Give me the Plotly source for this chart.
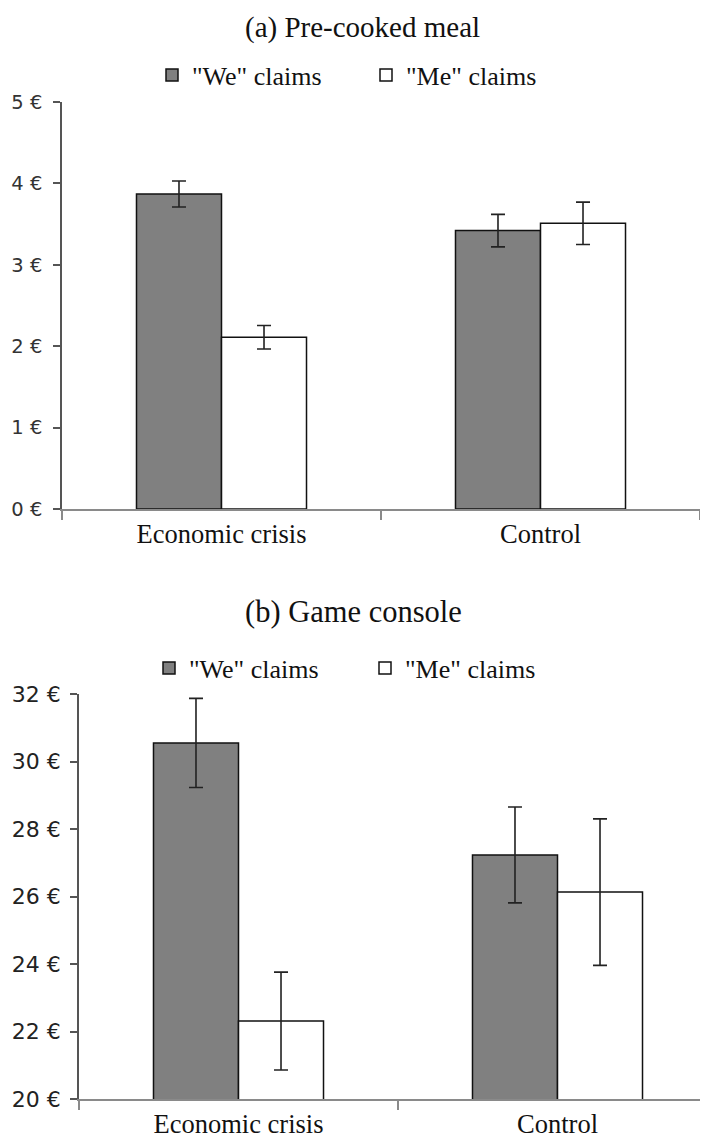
import plotly.graph_objects as go

# ---- data ----
categories = ["Economic crisis", "Control"]
series_names = ['"We" claims', '"Me" claims']
panel_titles = ["(a) Pre-cooked meal", "(b) Game console"]

meal_we = [3.87, 3.42]
meal_we_err = [0.16, 0.20]
meal_me = [2.11, 3.51]
meal_me_err = [0.145, 0.26]

console_we = [30.55, 27.23]
console_we_err = [1.32, 1.42]
console_me = [22.31, 26.13]
console_me_err = [1.45, 2.17]

meal_ticks = [0, 1, 2, 3, 4, 5]
meal_ticklabels = ["0 €", "1 €", "2 €", "3 €", "4 €", "5 €"]
console_ticks = [20, 22, 24, 26, 28, 30, 32]
console_ticklabels = ["20 €", "22 €", "24 €", "26 €", "28 €", "30 €", "32 €"]

# ---- styling ----
W, H = 708, 1139
OFF = 8  # page body margin offsets the figure
GRAY = "#808080"
SERIF = "Liberation Serif, DejaVu Serif, serif"
SANS = "DejaVu Sans, sans-serif"
xpos = list(range(len(categories)))


def err(arr):
    return dict(type="data", array=arr, visible=True, color="#222222",
                thickness=1.6, width=7)


fig = go.Figure()
panels = [
    (meal_we, meal_we_err, meal_me, meal_me_err, "x", "y", "legend"),
    (console_we, console_we_err, console_me, console_me_err, "x2", "y2", "legend2"),
]
for we, we_e, me, me_e, xa, ya, lg in panels:
    fig.add_trace(go.Bar(x=xpos, y=we, name=series_names[0], xaxis=xa, yaxis=ya,
                         legend=lg, error_y=err(we_e),
                         marker=dict(color=GRAY, line=dict(color="#111111", width=1.5))))
    fig.add_trace(go.Bar(x=xpos, y=me, name=series_names[1], xaxis=xa, yaxis=ya,
                         legend=lg, error_y=err(me_e),
                         marker=dict(color="white", line=dict(color="#111111", width=1.5))))


def px_x(p):
    return (p - OFF) / W


def px_y(p):
    return 1 - (p - OFF) / H


xcommon = dict(tickvals=xpos, ticktext=categories, ticks="", showline=True,
               linecolor="#8a8a8a", linewidth=1.5, showgrid=False, zeroline=False,
               tickfont=dict(family=SERIF, size=26.5, color="#111111"),
               ticklabelstandoff=0, automargin=False,
               minor=dict(tickvals=[-0.5, 0.5, 1.5], ticks="outside", ticklen=9,
                          tickcolor="#8a8a8a", tickwidth=1.5, showgrid=False))
ycommon = dict(ticks="outside", ticklen=7, tickcolor="#555555", tickwidth=1.5,
               showline=True, linecolor="#555555", linewidth=1.5, showgrid=False,
               zeroline=False, automargin=False)

# bottom panel x axis runs past the right edge of the picture
x2_right = -0.5 + 2 * (W + OFF - 79) / (717 - 79)

fig.update_layout(
    width=W, height=H, margin=dict(l=0, r=0, t=0, b=0, autoexpand=False),
    paper_bgcolor="white", plot_bgcolor="white",
    barmode="group", bargap=0.467, bargroupgap=0,
    xaxis=dict(domain=[px_x(62), px_x(700)], range=[-0.5, 1.5], anchor="y", **xcommon),
    yaxis=dict(domain=[px_y(509), px_y(102)], range=[0, 5], anchor="x",
               tickvals=meal_ticks, ticktext=meal_ticklabels, ticklabelstandoff=7,
               tickfont=dict(family=SANS, size=19.5, color="#333333"), **ycommon),
    xaxis2=dict(domain=[px_x(79), 1.0], range=[-0.5, x2_right], anchor="y2", **xcommon),
    yaxis2=dict(domain=[px_y(1099), px_y(694)], range=[20, 32], anchor="x2",
                tickvals=console_ticks, ticktext=console_ticklabels, ticklabelstandoff=5,
                tickfont=dict(family=SANS, size=22, color="#222222"), **ycommon),
    legend=dict(orientation="h", x=px_x(152), y=px_y(75), xanchor="left", yanchor="middle",
                font=dict(family=SERIF, size=26, color="#111111"), entrywidth=169,
                bgcolor="rgba(0,0,0,0)", traceorder="normal"),
    legend2=dict(orientation="h", x=px_x(149), y=px_y(668), xanchor="left", yanchor="middle",
                 font=dict(family=SERIF, size=26, color="#111111"), entrywidth=171,
                 bgcolor="rgba(0,0,0,0)", traceorder="normal"),
    annotations=[
        dict(text=panel_titles[0], x=px_x(362), y=px_y(28), xref="paper", yref="paper",
             xanchor="center", yanchor="middle", showarrow=False,
             font=dict(family=SERIF, size=29, color="#111111")),
        dict(text=panel_titles[1], x=px_x(353), y=px_y(612), xref="paper", yref="paper",
             xanchor="center", yanchor="middle", showarrow=False,
             font=dict(family=SERIF, size=30.5, color="#111111")),
    ],
)

fig.write_html("out.html")
